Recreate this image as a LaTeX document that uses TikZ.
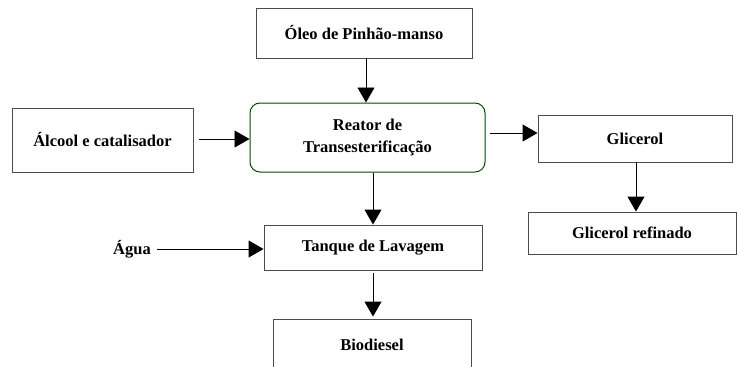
\documentclass[tikz,border=0pt]{standalone}
\usepackage{fontspec}
\setmainfont{Liberation Serif}
\usetikzlibrary{arrows.meta}
\begin{document}
\begin{tikzpicture}[x=1pt,y=-1pt,
  every node/.style={font=\fontsize{16.5}{22}\selectfont\bfseries, text=black, inner sep=0pt},
  box/.style={draw=black!70, line width=0.9pt, rectangle},
  reactor/.style={draw=black!50!green!60!black, line width=1pt, rounded corners=10pt, align=center},
  flow/.style={line width=0.9pt, -{Triangle[width=17pt,length=15pt]}}
]
\useasboundingbox (0,0) rectangle (737,367);

% process units
\node[box, minimum width=216, minimum height=50] (oleo) at (364,33) {Óleo de Pinhão-manso};
\node[reactor, minimum width=235, minimum height=69] (reator) at (367.5,137.5) {Reator de\\Transesterificação};
\node[box, minimum width=181, minimum height=64] (alcool) at (102.5,140) {Álcool e catalisador};
\node[box, minimum width=194, minimum height=47] (glicerol) at (635,138.5) {Glicerol};
\node[box, minimum width=208, minimum height=42] (refinado) at (632,233) {Glicerol refinado};
\node[box, minimum width=218, minimum height=45] (tanque) at (373,247.5) {Tanque de Lavagem};
\node[box, minimum width=198, minimum height=52] (biodiesel) at (372,345) {Biodiesel};
\node (agua) at (132,249) {Água};

% material flows
\draw[flow] (oleo.south -| 366,0) -- (reator.north -| 366,0);
\draw[flow, shorten <=6pt] (alcool.east |- 0,139) -- (reator.west |- 0,139);
\draw[flow, shorten <=4pt] (reator.east |- 0,133) -- (glicerol.west |- 0,133);
\draw[flow] (glicerol.south -| 636,0) -- (refinado.north -| 636,0);
\draw[flow] (reator.south -| 373,0) -- (tanque.north -| 373,0);
\draw[flow, shorten <=6pt] (agua.east |- 0,249) -- (tanque.west |- 0,249);
\draw[flow, shorten <=3pt, shorten >=2pt] (tanque.south -| 373,0) -- (biodiesel.north -| 373,0);
\end{tikzpicture}
\end{document}
